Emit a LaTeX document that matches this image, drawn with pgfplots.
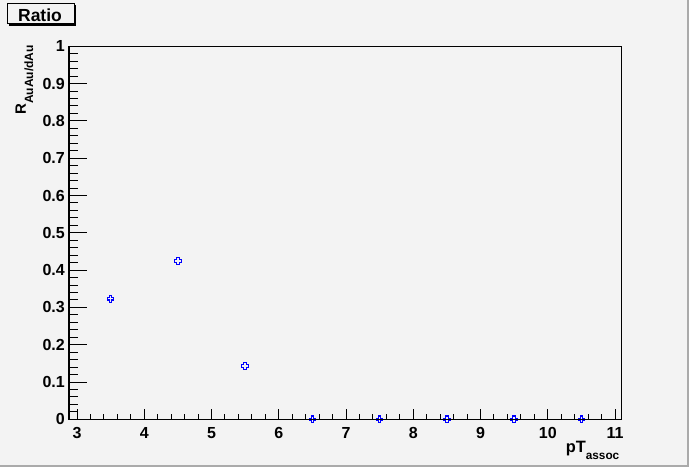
\documentclass[border=0pt]{standalone}
\usepackage{fontspec}
\setmainfont{Liberation Sans}
\usepackage{pgfplots}
\pgfplotsset{compat=1.18}
\definecolor{bg}{RGB}{243,243,243}
\definecolor{edge}{RGB}{170,170,170}
\pgfdeclareplotmark{ocross}{%
  \pgfpathmoveto{\pgfqpoint{-1.2pt}{-3.3pt}}%
  \pgfpathlineto{\pgfqpoint{1.2pt}{-3.3pt}}%
  \pgfpathlineto{\pgfqpoint{1.2pt}{-1.2pt}}%
  \pgfpathlineto{\pgfqpoint{3.3pt}{-1.2pt}}%
  \pgfpathlineto{\pgfqpoint{3.3pt}{1.2pt}}%
  \pgfpathlineto{\pgfqpoint{1.2pt}{1.2pt}}%
  \pgfpathlineto{\pgfqpoint{1.2pt}{3.3pt}}%
  \pgfpathlineto{\pgfqpoint{-1.2pt}{3.3pt}}%
  \pgfpathlineto{\pgfqpoint{-1.2pt}{1.2pt}}%
  \pgfpathlineto{\pgfqpoint{-3.3pt}{1.2pt}}%
  \pgfpathlineto{\pgfqpoint{-3.3pt}{-1.2pt}}%
  \pgfpathlineto{\pgfqpoint{-1.2pt}{-1.2pt}}%
  \pgfpathclose
  \pgfusepathqfillstroke
}
\pgfplotstableread{
x y
3.5 0.323
4.5 0.424
5.5 0.143
6.5 0
7.5 0
8.5 0
9.5 0
10.5 0
}\ratiodata
\pgfplotsset{
  rootaxis/.style={
    at={(69pt,47.7pt)}, anchor=south west,
    scale only axis, width=552pt, height=373pt,
    xmin=2.881, xmax=11.089, ymin=0, ymax=1,
    axis line style={black, line width=1pt},
    tick style={black, line width=1pt},
    tick align=inside,
    xtick pos=bottom, ytick pos=left,
    /pgf/number format/assume math mode=true,
    /pgf/number format/fixed,
    /pgf/number format/precision=1,
    ticklabel style={font=\fontsize{16}{16}\selectfont\bfseries, inner sep=0pt},
    clip=false,
  }
}
\begin{document}
\begin{tikzpicture}[x=1pt,y=1pt]
\fill[bg] (0,0) rectangle (689,467);
\useasboundingbox (0,0) rectangle (689,467);
\fill[edge] (687,0) rectangle (689,467);
\fill[edge] (0,0) rectangle (689,2);
% title box
\fill[black] (9,441) rectangle (76,443.5);
\fill[black] (73.5,441) rectangle (76,461.5);
\draw[line width=1pt, fill=bg] (7.5,463.5) rectangle (74,443.5);
\node[anchor=base, inner sep=0pt, font=\fontsize{17.5}{18}\selectfont\bfseries] at (40,445) {Ratio};
% x ticks + data
\begin{axis}[rootaxis,
  xtick={3,4,...,11}, minor x tick num=4, ytick=\empty,
  major tick length=10.7pt, minor tick length=5.3pt,
  xticklabel style={anchor=north, yshift=-7.5pt},
]
\addplot[blue, only marks, mark=ocross, mark options={draw=blue, fill=bg, line width=1.1pt}] table[x=x, y=y] {\ratiodata};
\end{axis}
% y ticks
\begin{axis}[rootaxis,
  xtick=\empty, ytick={0,0.1,...,1}, minor y tick num=4,
  major tick length=17.7pt, minor tick length=9pt,
  yticklabel style={anchor=east, xshift=-4pt},
]
\end{axis}
% axis titles
\node[anchor=base east, inner sep=0pt, font=\fontsize{16.4}{16}\selectfont\bfseries] at (619.5,14.3) {pT\raisebox{-7pt}{\fontsize{11.8}{12}\selectfont assoc}};
\node[rotate=90, anchor=base east, inner sep=0pt, font=\fontsize{15}{15}\selectfont\bfseries] at (26,422) {R\raisebox{-7pt}{\fontsize{12}{12}\selectfont AuAu/dAu}};
\end{tikzpicture}
\end{document}
